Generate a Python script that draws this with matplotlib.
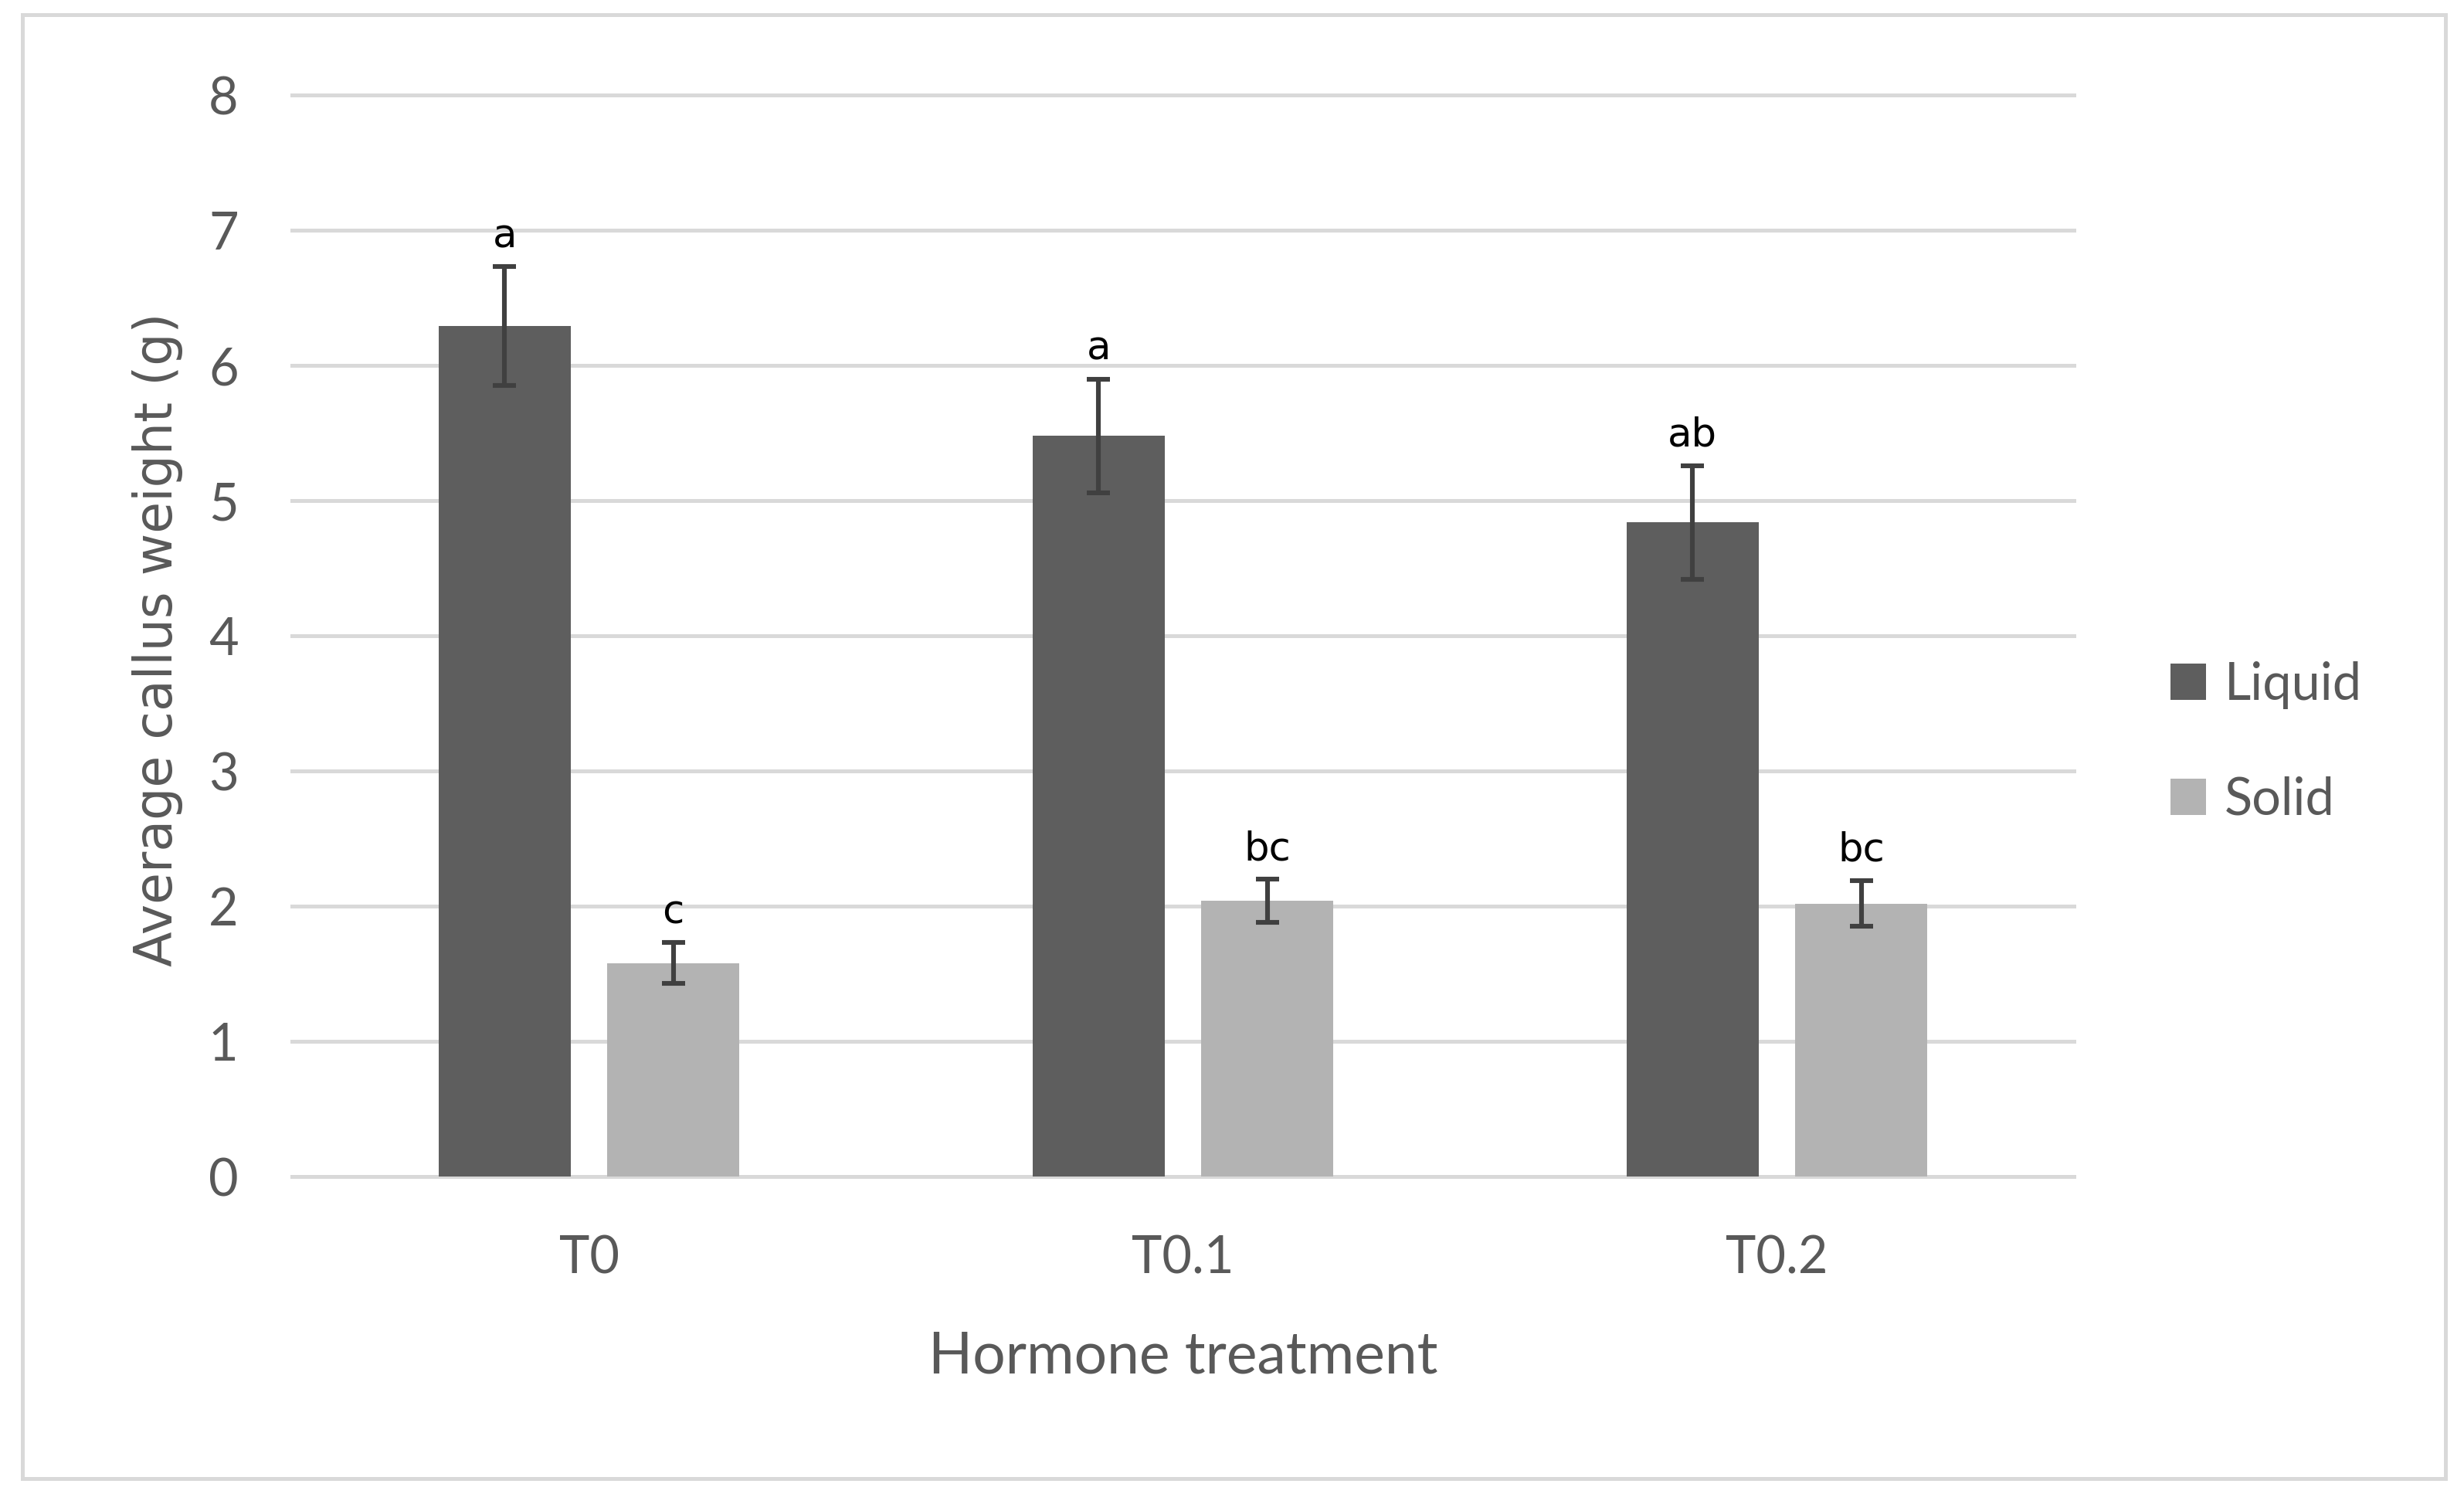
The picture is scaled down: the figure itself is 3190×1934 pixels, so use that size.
import numpy as np
import matplotlib.pyplot as plt
from matplotlib.patches import Rectangle

# data
treatments = ["T0", "T0.1", "T0.2"]
liquid = [6.29, 5.48, 4.84]
liquid_err = [0.44, 0.42, 0.42]
solid = [1.58, 2.04, 2.02]
solid_err = [0.15, 0.16, 0.17]
liquid_letters = ["a", "a", "ab"]
solid_letters = ["c", "bc", "bc"]

dark = "#5e5e5e"
light = "#b3b3b3"
grid_col = "#d9d9d9"
text_col = "#595959"

fig = plt.figure(figsize=(15.95, 9.67), dpi=200)
ax = fig.add_axes([0.1185, 0.2125, 0.7232, 0.7239])

x = np.arange(len(treatments))
w = 0.223
off = 0.142

ax.bar(x - off, liquid, w, color=dark, label="Liquid", zorder=3)
ax.bar(x + off, solid, w, color=light, label="Solid", zorder=3)
ax.errorbar(x - off, liquid, yerr=liquid_err, fmt="none", ecolor="#404040",
            elinewidth=2.2, capsize=5.5, capthick=2.2, zorder=4)
ax.errorbar(x + off, solid, yerr=solid_err, fmt="none", ecolor="#404040",
            elinewidth=2.2, capsize=5.5, capthick=2.2, zorder=4)

# significance letters above the error bars
for i in range(len(treatments)):
    ax.annotate(liquid_letters[i], (x[i] - off, liquid[i] + liquid_err[i]),
                xytext=(0, 5), textcoords="offset points", ha="center", va="bottom",
                fontsize=18.5, family="DejaVu Sans", color="black")
    ax.annotate(solid_letters[i], (x[i] + off, solid[i] + solid_err[i]),
                xytext=(0, 5), textcoords="offset points", ha="center", va="bottom",
                fontsize=18.5, family="DejaVu Sans", color="black")

ax.set_xlim(-0.5, 2.5)
ax.set_ylim(0, 8)
ax.set_yticks(range(0, 9))
ax.set_xticks(x)
ax.set_xticklabels(treatments)
ax.yaxis.grid(True, color=grid_col, linewidth=1.8, zorder=0)
for gl in ax.get_ygridlines():
    gl.set_clip_on(False)
ax.set_axisbelow(True)
for s in ax.spines.values():
    s.set_visible(False)
ax.tick_params(length=0, labelsize=24, labelcolor=text_col)
ax.tick_params(axis="y", pad=25)
ax.tick_params(axis="x", pad=27)
for lab in ax.get_xticklabels() + ax.get_yticklabels():
    lab.set_family("Lato")

ax.set_xlabel("Hormone treatment", fontsize=27, color=text_col, family="Lato", labelpad=22)
fig.text(0.064, 0.572, "Average callus weight (g)", rotation=90, ha="center", va="center",
         fontsize=24, color=text_col, family="DejaVu Sans")

leg = ax.legend(loc="center left", bbox_to_anchor=(0.862, 0.503), bbox_transform=fig.transFigure,
                frameon=False, handlelength=0.7, handleheight=0.7, handletextpad=0.35,
                labelspacing=1.3, prop={"family": "Lato", "size": 24})
for t in leg.get_texts():
    t.set_color(text_col)

fig.patches.append(Rectangle((0.009, 0.0105), 0.9835, 0.9795, transform=fig.transFigure,
                             fill=False, edgecolor=grid_col, linewidth=1.8))

fig.savefig("out.png", dpi=200, facecolor="white")
